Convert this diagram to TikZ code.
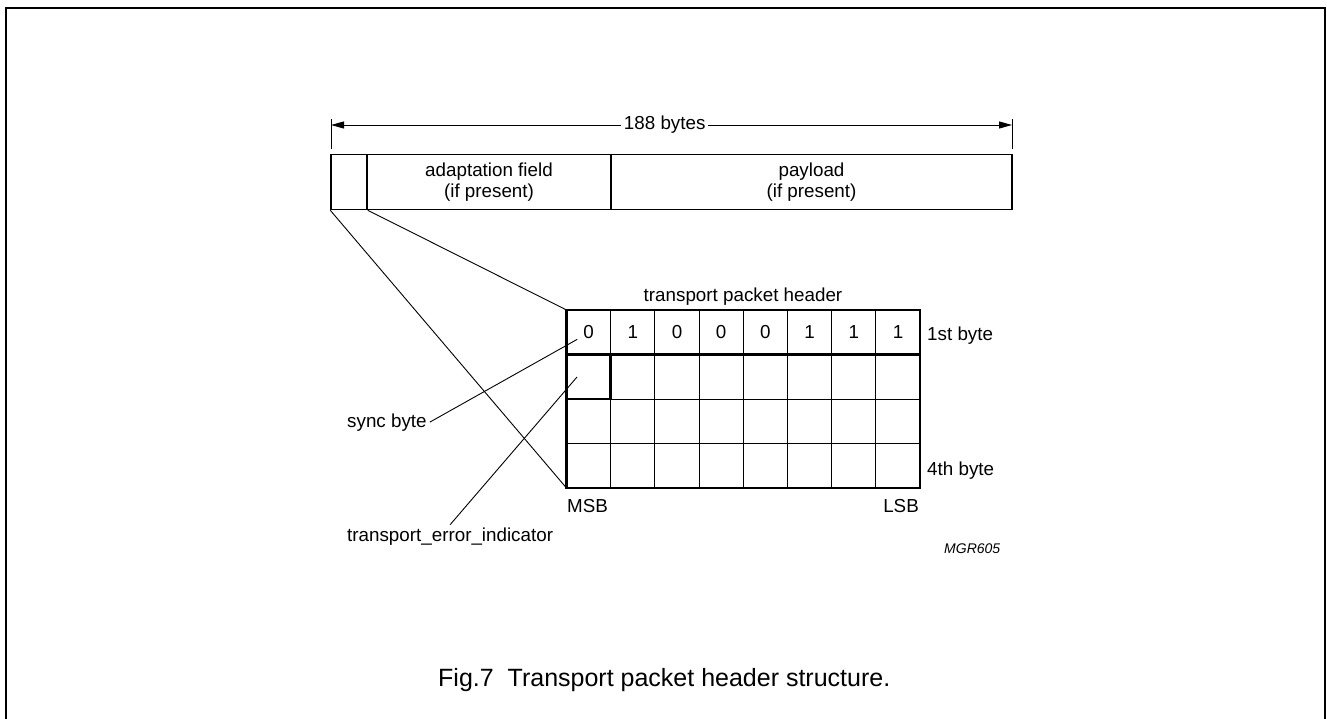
\documentclass[tikz,border=0pt]{standalone}
\usepackage{fontspec}
\setmainfont{Liberation Sans}
\usetikzlibrary{arrows.meta,positioning}

\begin{document}
\begin{tikzpicture}[x=1pt,y=-1pt]
  \tikzstyle{every node}=[inner sep=0pt, font=\fontsize{18.8}{21}\selectfont]
  \tikzstyle{field}=[draw, line width=1.5pt, minimum height=55pt, align=center]
  \tikzstyle{thin}=[line width=0.9pt]
  \tikzstyle{heavy}=[line width=2.7pt]

  \useasboundingbox (0,0) rectangle (1327,718);
  \draw[line width=1.5pt] (6,740) -- (6,8) -- (1325,8) -- (1325,740);

  % Specification of the packet fields
  \node[field, minimum width=36pt] (Sync) at (349,182) {};
  \node[field, minimum width=244pt] (Adapt) at (489,182) {adaptation field\\(if present)};
  \node[field, minimum width=401pt] (Payload) at (811.5,182) {payload\\(if present)};

  % 188 bytes dimension
  \draw[thin] (331,119) -- (331,149);
  \draw[thin] (1012,119) -- (1012,149);
  \coordinate (DimL) at (331,125);
  \coordinate (DimR) at (1012,125);
  \draw[thin, {Triangle[length=13pt,width=7pt]}-{Triangle[length=13pt,width=7pt]}]
    (DimL) -- node[pos=0.49, fill=white, inner sep=3pt] {188 bytes} (DimR);

  % header grid (8 bits x 4 bytes)
  \coordinate (HdrNW) at (566.5,310);
  \coordinate (HdrSW) at (566.5,488);
  \foreach \i in {1,...,7}
    \draw[thin] (566.5+\i*44.2,310) -- (566.5+\i*44.2,488);
  \foreach \j in {2,3}
    \draw[thin] (566.5,310+\j*44.5) -- (920,310+\j*44.5);
  \draw[heavy] (566.5,310) rectangle (920,488);
  \draw[heavy] (566.5,354.5) -- (920,354.5);
  \draw[heavy] (566.5,354.5) rectangle (610.7,399);
  \foreach \b [count=\i] in {0,1,0,0,0,1,1,1}
    \node (Bit\i) at (566.5+\i*44.2-22.1,332.5) {\b};

  % texts round the grid
  \node[anchor=base] (HdrTitle) at (743,301) {transport packet header};
  \node[anchor=base west] (FirstByte) at (927,340) {1st byte};
  \node[anchor=base west] (FourthByte) at (927,475) {4th byte};
  \node[anchor=base west] (MSB) at (567,512) {MSB};
  \node[anchor=base east] (LSB) at (919,512) {LSB};
  \node[anchor=base west, inner sep=3pt] (SyncLbl) at (344,427) {sync byte};
  \node[anchor=base west, inner sep=3pt] (TeiLbl) at (344,541.5) {transport\_error\_indicator};
  \node[anchor=base west, font=\fontsize{14}{16}\selectfont\itshape] (Code) at (944,553) {MGR605};
  \node[anchor=base west, font=\fontsize{25}{30}\selectfont] (Caption) at (438,686)
    {Fig.7\ \ Transport packet header structure.};

  % connectors
  \begin{scope}[thin]
    \draw (Sync.south west) -- (HdrSW);
    \draw (Sync.south east) -- (HdrNW);
    \draw (SyncLbl.east) -- ([xshift=-6pt]Bit1.south west);
    \coordinate (TeiTip) at (577,377);
    \draw (TeiLbl.north) -- (TeiTip);
  \end{scope}
\end{tikzpicture}
\end{document}
